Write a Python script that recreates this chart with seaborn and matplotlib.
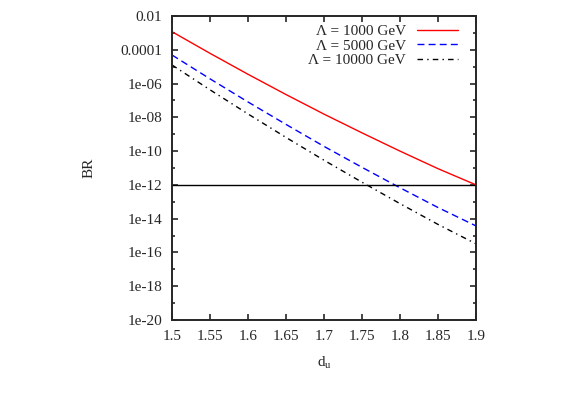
import numpy as np
import pandas as pd
import matplotlib
matplotlib.use("Agg")
import matplotlib.pyplot as plt
import seaborn as sns

# dados (expoente de 10 do BR)
d_u = [1.5, 1.55, 1.6, 1.65, 1.7, 1.75, 1.8, 1.85, 1.9]
log_br_1000 = [-2.93, -4.21, -5.45, -6.65, -7.81, -8.92, -10.00, -11.04, -12.00]
log_br_5000 = [-4.31, -5.72, -7.09, -8.42, -9.72, -10.96, -12.17, -13.34, -14.43]
log_br_10000 = [-4.90, -6.37, -7.80, -9.19, -10.54, -11.84, -13.11, -14.34, -15.49]
labels = ["\u039b = 1000 GeV", "\u039b = 5000 GeV", "\u039b = 10000 GeV"]
limite_br = [1e-12]
yticks = [1e-20, 1e-18, 1e-16, 1e-14, 1e-12, 1e-10, 1e-8, 1e-6, 1e-4, 1e-2]
ytick_labels = ["1e-20", "1e-18", "1e-16", "1e-14", "1e-12", "1e-10",
                "1e-08", "1e-06", "0.0001", "0.01"]
xticks = [1.5, 1.55, 1.6, 1.65, 1.7, 1.75, 1.8, 1.85, 1.9]

df = pd.DataFrame({
    "d_u": d_u * 3,
    "BR": 10.0 ** np.array(log_br_1000 + log_br_5000 + log_br_10000),
    "serie": [labels[0]] * 9 + [labels[1]] * 9 + [labels[2]] * 9,
})

sns.set_style("ticks")
plt.rcParams["font.family"] = ["Liberation Serif", "DejaVu Serif"]
plt.rcParams["mathtext.fontset"] = "custom"
plt.rcParams["mathtext.rm"] = "Liberation Serif"
plt.rcParams["font.size"] = 11

fig = plt.figure(figsize=(5.66, 3.95), dpi=100)
ax = fig.add_axes([172 / 566, 1 - 320 / 395, 304 / 566, 304 / 395])

sns.lineplot(data=df, x="d_u", y="BR", hue="serie", style="serie",
             palette=["#ff0000", "#0000ff", "#000000"],
             dashes=["", (5, 3), (4, 3, 1, 3)],
             linewidth=1.0, ax=ax)
ax.axhline(limite_br[0], color="black", linewidth=1.0)

ax.set_yscale("log")
ax.set_xlim(1.5, 1.9)
ax.set_ylim(1e-20, 1e-2)
ax.set_xticks(xticks)
ax.set_xticklabels([f"{t:g}" for t in xticks])
ax.set_yticks(yticks)
ax.set_yticklabels(ytick_labels)
ax.yaxis.set_minor_locator(matplotlib.ticker.FixedLocator([10.0 ** e for e in range(-19, -2, 2)]))
ax.yaxis.set_minor_formatter(matplotlib.ticker.NullFormatter())
ax.tick_params(which="both", direction="in", top=True, right=True, width=1.2, labelsize=11)
ax.tick_params(which="major", length=4)
ax.tick_params(axis="y", which="major", pad=7)
ax.tick_params(axis="x", which="major", pad=7)
ax.tick_params(which="minor", length=2.5)
for s in ax.spines.values():
    s.set_linewidth(1.4)

ax.set_xlabel(r"$\mathrm{d}_\mathrm{u}$", fontsize=11, labelpad=8)
ax.set_ylabel("BR", fontsize=11, labelpad=18)

leg = ax.legend(loc="upper right", frameon=False, markerfirst=False,
                handlelength=2.7, labelspacing=0.05, borderaxespad=0.3,
                handletextpad=0.7, fontsize=11,
                bbox_to_anchor=(1 - 7.5 / 304, 1 + 2 / 304))

fig.savefig("out.png", dpi=100)
